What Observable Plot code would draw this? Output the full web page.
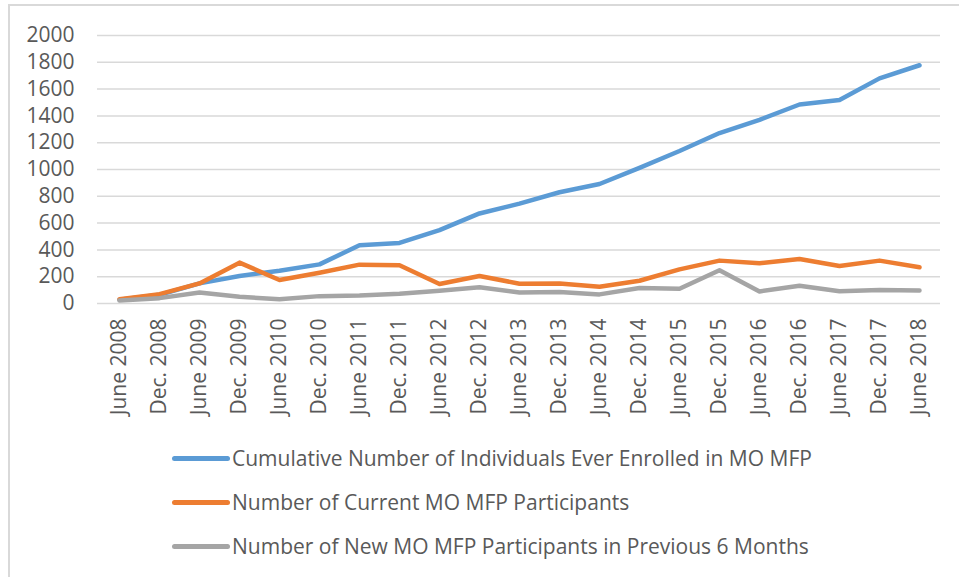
<!DOCTYPE html>
<html><head><meta charset="utf-8">
<script src="https://cdn.jsdelivr.net/npm/d3@7"></script>
<script src="https://cdn.jsdelivr.net/npm/@observablehq/plot@0.6"></script>
<style>
body{margin:0;background:#fff;font-family:"Open Sans",sans-serif;}
#wrap{position:relative;width:959px;height:577px;overflow:hidden;background:#fff;}
.bt{position:absolute;left:8px;top:4px;width:951px;height:2px;background:#d9d9d9}
.bl{position:absolute;left:8px;top:4px;width:2px;height:573px;background:#d9d9d9}
#chart{position:absolute;left:0;top:0;}
#legend{position:absolute;left:172px;top:436px;}
.row{display:flex;align-items:center;height:44px;font-size:21px;color:#595959;white-space:nowrap}
.sw{width:58px;height:5px;border-radius:3px;margin-right:2px}
</style></head>
<body><div id="wrap"><div class="bt"></div><div class="bl"></div><div id="chart"></div><div id="legend"></div></div>
<script>
const periods = ["June 2008","Dec. 2008","June 2009","Dec. 2009","June 2010","Dec. 2010","June 2011","Dec. 2011","June 2012","Dec. 2012","June 2013","Dec. 2013","June 2014","Dec. 2014","June 2015","Dec. 2015","June 2016","Dec. 2016","June 2017","Dec. 2017","June 2018"];
const cumulative = [28, 65, 150, 205, 245, 292, 435, 452, 548, 672, 745, 830, 892, 1012, 1138, 1272, 1370, 1485, 1518, 1680, 1778];
const current = [32, 70, 150, 305, 175, 230, 290, 285, 145, 205, 148, 150, 125, 170, 255, 320, 300, 332, 280, 320, 270];
const newParticipants = [22, 40, 82, 50, 32, 55, 60, 72, 95, 122, 82, 85, 68, 115, 110, 248, 90, 132, 92, 100, 97];
const seriesNames = ["Cumulative Number of Individuals Ever Enrolled in MO MFP","Number of Current MO MFP Participants","Number of New MO MFP Participants in Previous 6 Months"];
const seriesColors = ["#5b9bd5","#ed7d31","#a5a5a5"];
const yTicks = [0,200,400,600,800,1000,1200,1400,1600,1800,2000];

const seriesValues = [cumulative, current, newParticipants];
const data = [];
seriesNames.forEach((s, i) => periods.forEach((p, j) => data.push({series: s, period: p, value: seriesValues[i][j]})));

const chart = Plot.plot({
  width: 959, height: 430,
  marginLeft: 97, marginRight: 19, marginTop: 35, marginBottom: 127,
  style: {fontFamily: "'Open Sans', sans-serif", fontSize: "21px", color: "#595959", background: "transparent"},
  x: {type: "point", domain: periods, padding: 0.5},
  y: {domain: [0, 2000]},
  color: {domain: seriesNames, range: seriesColors},
  marks: [
    Plot.ruleY(yTicks, {stroke: "#d9d9d9", strokeWidth: 1.5}),
    Plot.axisY({ticks: yTicks, tickFormat: d => String(d), tickSize: 0, tickPadding: 23, fontSize: 21, fill: "#595959", label: null}),
    Plot.axisX({tickRotate: -90, tickSize: 0, tickPadding: 15, fontSize: 21, fill: "#595959", label: null}),
    Plot.line(data, {x: "period", y: "value", stroke: "series", z: "series", strokeWidth: 4.5, strokeLinecap: "round", strokeLinejoin: "round"})
  ]
});
document.getElementById("chart").appendChild(chart);

const legend = document.getElementById("legend");
seriesNames.forEach((s, i) => {
  const row = document.createElement("div");
  row.className = "row";
  const sw = document.createElement("div");
  sw.className = "sw";
  sw.style.background = seriesColors[i];
  const t = document.createElement("span");
  t.textContent = s;
  row.appendChild(sw); row.appendChild(t);
  legend.appendChild(row);
});
</script>
</body></html>
